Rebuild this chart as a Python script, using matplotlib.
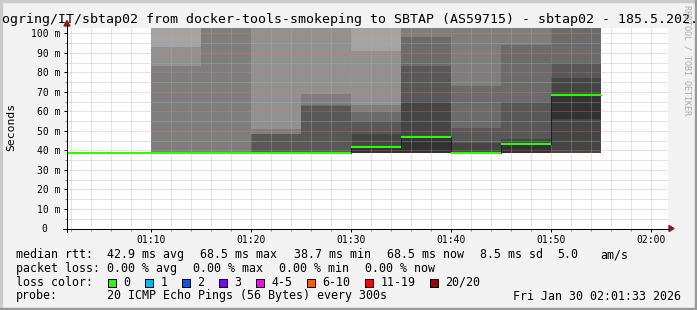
import matplotlib
matplotlib.use("Agg")
import matplotlib.pyplot as plt
from matplotlib.lines import Line2D
from matplotlib.patches import Rectangle, Polygon
from matplotlib.ticker import MultipleLocator, FuncFormatter

W, H = 697, 310
MONO = "DejaVu Sans Mono"

# start of every 5 minute step, in minutes after 01:00
steps = [0, 5, 10, 15, 20, 25, 30, 35, 40, 45, 50]
median_ms = [38.7, 38.7, 38.7, 38.7, 38.7, 38.7, 41.9, 47.1, 38.8, 43.5, 68.5]

# smoke: the 20 sorted pings of each step (ms), only from 01:10 on
smoke_steps = [10, 15, 20, 25, 30, 35, 40, 45, 50]
pings_0110 = [38.6, 38.6, 38.6, 38.6, 38.7, 38.7, 38.7, 38.7, 38.7, 38.7,
              38.7, 38.8, 38.8, 38.9, 83.3, 93.1, 110, 125, 140, 160]
pings_0115 = [38.6, 38.6, 38.6, 38.6, 38.7, 38.7, 38.7, 38.7, 38.7, 38.7,
              38.7, 38.8, 38.8, 38.9, 106, 115, 125, 140, 160, 180]
pings_0120 = [38.6, 38.6, 38.6, 38.6, 38.7, 38.7, 38.7, 38.7, 38.7, 38.7,
              38.7, 38.9, 48.5, 48.6, 51.0, 108, 118, 130, 150, 170]
pings_0125 = [38.6, 38.6, 38.6, 38.6, 38.7, 38.7, 38.7, 38.7, 38.7, 38.7,
              38.7, 38.9, 62.8, 63.3, 68.9, 108, 118, 130, 150, 170]
pings_0130 = [38.6, 38.6, 38.6, 38.7, 38.7, 38.7, 38.7, 38.8, 38.8, 38.9,
              41.9, 48.6, 55.2, 59.8, 63.3, 90.9, 110, 125, 140, 160]
pings_0135 = [38.6, 38.6, 38.6, 38.7, 38.7, 38.7, 38.7, 38.8, 38.8, 38.9,
              47.1, 65.0, 83.4, 98.1, 106, 115, 128, 145, 165, 185]
pings_0140 = [38.6, 38.6, 38.6, 38.7, 38.7, 38.7, 38.7, 38.7, 38.7, 38.8,
              38.8, 44.0, 51.6, 73.0, 106, 115, 128, 145, 165, 185]
pings_0145 = [38.6, 38.6, 38.6, 38.7, 38.7, 38.7, 38.7, 38.8, 38.8, 38.9,
              43.5, 45.7, 65.0, 94.0, 106, 115, 128, 145, 165, 185]
pings_0150 = [38.6, 38.6, 38.6, 38.7, 38.7, 38.7, 38.8, 38.8, 38.9, 55.9,
              68.5, 77.3, 84.9, 105, 112, 120, 130, 145, 165, 185]
smoke_pings = [pings_0110, pings_0115, pings_0120, pings_0125, pings_0130,
               pings_0135, pings_0140, pings_0145, pings_0150]

loss_labels = ["0", "1", "2", "3", "4-5", "6-10", "11-19", "20/20"]
loss_colors = ["#26ff00", "#00b8ff", "#0059ff", "#7e00ff",
               "#ff00ff", "#ff5e00", "#ff0000", "#a10000"]


def px(x, y):
    # pixel position (from top left) -> figure fraction
    return x / W, 1 - y / H


fig = plt.figure(figsize=(W / 100, H / 100), dpi=100, facecolor="#f2f2f2")

# plot area 67..668 x 28..228.5 px
x0, y0 = px(67, 228.5)
x1, y1 = px(668, 28)
ax = fig.add_axes([x0, y0, x1 - x0, y1 - y0])
ax.set_facecolor("white")
ax.set_xlim(1.6, 61.7)
ax.set_ylim(0, 102.7)

# smoke, the same way smokeping stacks it: outer pairs light, inner dark
half = 10
for start, pings in zip(smoke_steps, smoke_pings):
    for ibot in range(1, half + 1):
        itop = 21 - ibot
        lo, hi = pings[ibot - 1], pings[itop - 1]
        g = int(190 / half * (half - ibot)) + 50
        ax.bar(start, hi - lo, bottom=lo, width=5, align="edge",
               color="#%02x%02x%02x" % (g, g, g), linewidth=0, zorder=1)

# median: dark step line, green where loss is 0
edges = steps + [steps[-1] + 5]
ax.stairs(median_ms, edges, baseline=None, color="#202020", lw=0.72, zorder=4)
ax.hlines(median_ms, steps, [s + 5 for s in steps], color=loss_colors[0],
          lw=1.5, zorder=5)

# grid on top of the smoke
ax.set_axisbelow(False)
ax.xaxis.set_major_locator(MultipleLocator(10))
ax.xaxis.set_minor_locator(MultipleLocator(2))
ax.yaxis.set_major_locator(MultipleLocator(10))
ax.yaxis.set_minor_locator(MultipleLocator(5))
ax.grid(which="minor", color="#b0b0b0", alpha=0.7, lw=0.72, ls=(0, (1, 1)))
ax.grid(which="major", color="#ff7070", alpha=0.55, lw=0.72, ls=(0, (1, 1)))

ax.xaxis.set_major_formatter(FuncFormatter(
    lambda v, p: "%02d:%02d" % (1 + int(v) // 60, int(v) % 60)))
ax.yaxis.set_major_formatter(FuncFormatter(
    lambda v, p: "0  " if v == 0 else "%d m" % v))
for s in ax.spines.values():
    s.set_visible(False)
ax.tick_params(which="major", length=2.5, width=0.72, color="black",
               labelsize=7, pad=2.5)
ax.tick_params(which="minor", length=1.4, width=0.72, color="#808080")
ax.tick_params(axis="x", which="major", pad=2.5)
for lbl in ax.get_xticklabels() + ax.get_yticklabels():
    lbl.set_family(MONO)

# axes with arrows
arrow = "#8b1a1a"
fig.add_artist(Line2D([px(67, 0)[0]] * 2, [px(0, 231.5)[1], px(0, 25)[1]],
                      color="black", lw=0.72, transform=fig.transFigure))
fig.add_artist(Line2D([px(63, 0)[0], px(669, 0)[0]], [px(0, 228.5)[1]] * 2,
                      color="black", lw=0.72, transform=fig.transFigure))
fig.add_artist(Polygon([px(67, 20.5), px(64, 26), px(70, 26)], closed=True,
                       color=arrow, transform=fig.transFigure))
fig.add_artist(Polygon([px(674, 228.5), px(669, 225.5), px(669, 231.5)],
                       closed=True, color=arrow, transform=fig.transFigure))

# title (wider than the picture, so it is cut on both sides)
fig.text(*px(1.7, 19.5),
         "ogring/IT/sbtap02 from docker-tools-smokeping to SBTAP (AS59715) - sbtap02 - 185.5.202.",
         family=MONO, fontsize=9.5, ha="left", va="center")
fig.text(*px(11, 127), "Seconds", family=MONO, fontsize=8.2, rotation=90,
         ha="center", va="center")
fig.text(*px(686.5, 60), "RRDTOOL / TOBI OETIKER", family=MONO, fontsize=6,
         color="#aaaaaa", rotation=270, ha="center", va="center")

# legend lines under the graph
legend_rows = [
    (254.7, [("median rtt:", 16), ("42.9 ms avg", 107.3), ("68.5 ms max", 200.3),
             ("38.7 ms min", 293.5), ("68.5 ms now", 387.5), ("8.5 ms sd", 480.5),
             ("5.0", 557), ("am/s", 600)]),
    (268.3, [("packet loss:", 16), ("0.00 % avg", 107.3), ("0.00 % max", 193.3),
             ("0.00 % min", 279.3), ("0.00 % now", 365.3)]),
    (282.3, [("loss color:", 16)]),
    (296, [("probe:", 16), ("20 ICMP Echo Pings (56 Bytes) every 300s", 107.3)]),
]
for y, items in legend_rows:
    for txt, x in items:
        fig.text(*px(x, y), txt, family=MONO, fontsize=8.4, ha="left", va="center")
fig.text(*px(681, 296), "Fri Jan 30 02:01:33 2026", family=MONO, fontsize=8.4,
         ha="right", va="center")

bx = 108.3
for lab, col in zip(loss_labels, loss_colors):
    bl = px(bx, 286.5)
    fig.add_artist(Rectangle(bl, 8 / W, 8 / H, facecolor=col, edgecolor="black",
                             lw=0.72, transform=fig.transFigure))
    fig.text(*px(bx + 15, 282.3), lab, family=MONO, fontsize=8.4,
             ha="left", va="center")
    bx += 30 + 7 * len(lab)

# 3d frame around the picture
shade_a, shade_b = "#cbcbcb", "#999999"
fig.add_artist(Rectangle((0, 1 - 2 / H), 1, 2 / H, color=shade_a, transform=fig.transFigure))
fig.add_artist(Rectangle((0, 0), 2 / W, 1, color=shade_a, transform=fig.transFigure))
fig.add_artist(Rectangle((0, 0), 1, 2 / H, color=shade_b, transform=fig.transFigure))
fig.add_artist(Rectangle((1 - 2 / W, 0), 2 / W, 1, color=shade_b, transform=fig.transFigure))

fig.savefig("out.png", dpi=100, facecolor=fig.get_facecolor())
